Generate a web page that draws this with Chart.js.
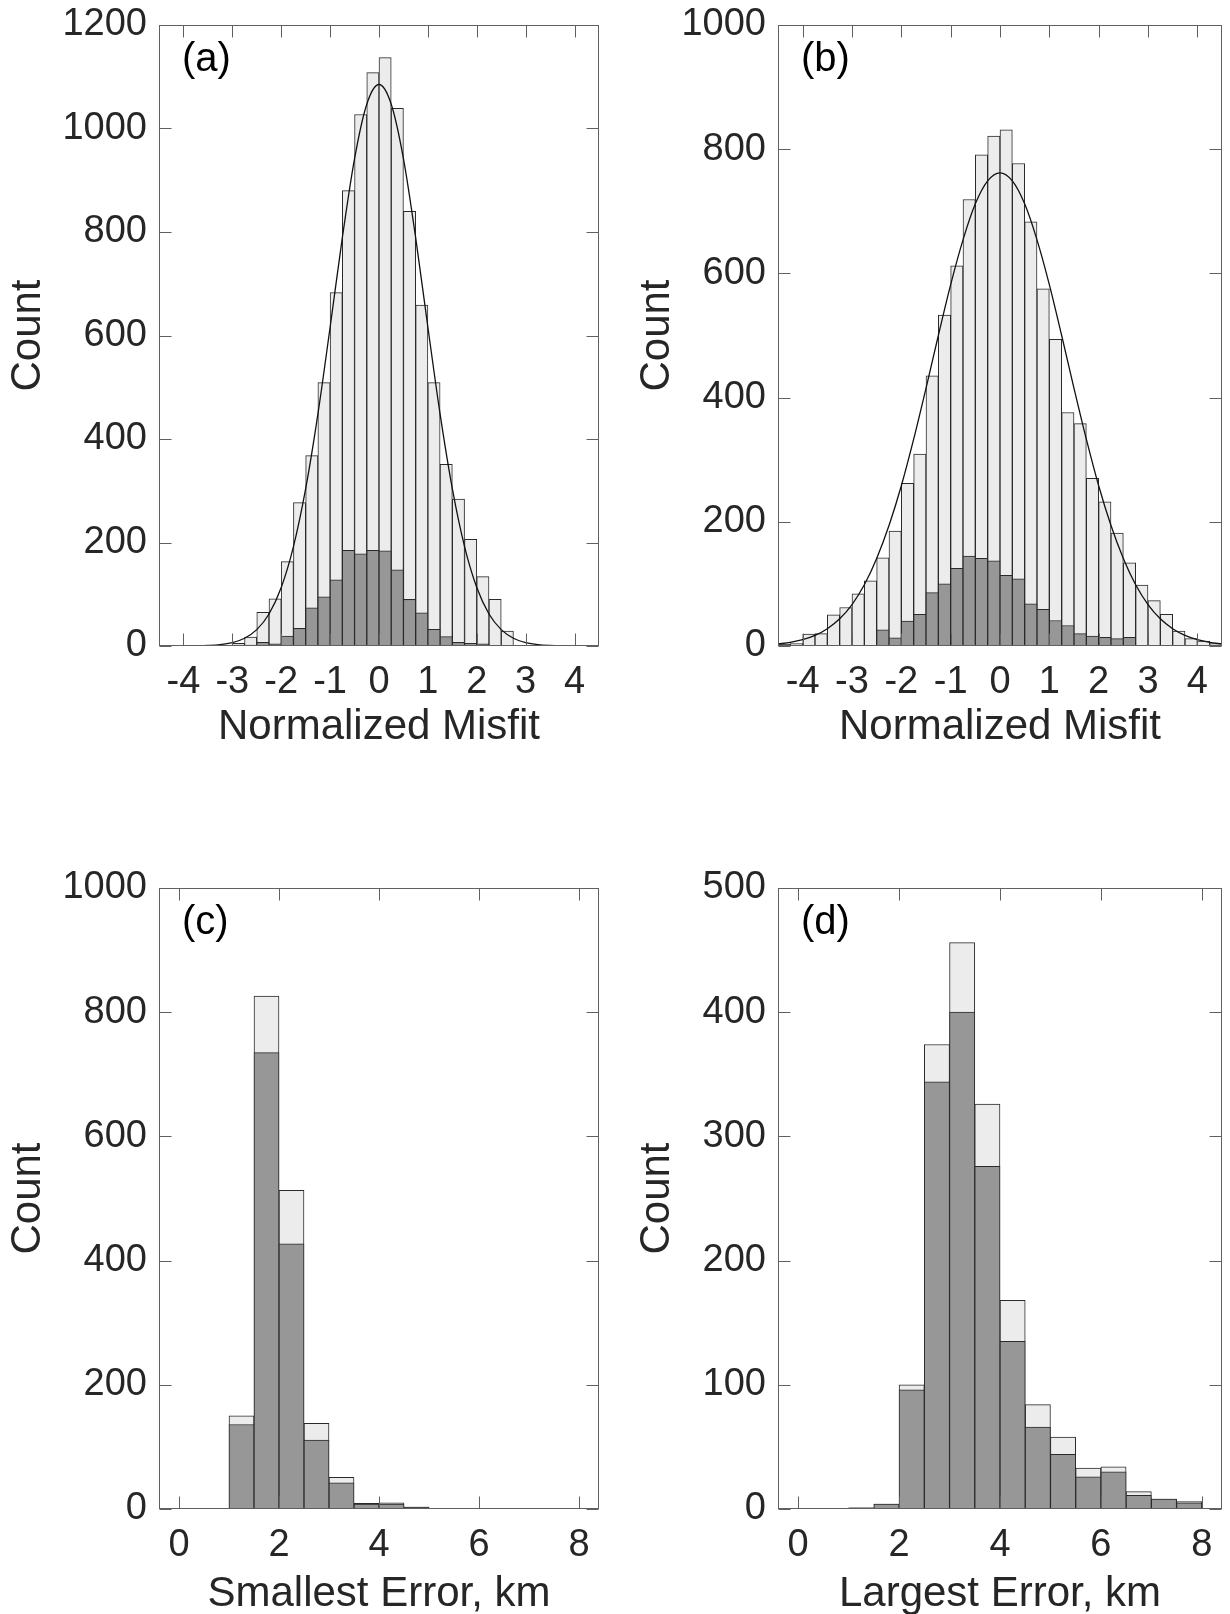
<!DOCTYPE html>
<html><head><meta charset="utf-8">
<script src="https://cdn.jsdelivr.net/npm/chart.js@4.4.0/dist/chart.umd.min.js"></script>
<style>
html,body{margin:0;padding:0;background:#fff;overflow:hidden;width:1230px;height:1614px;}
#wrap{position:relative;width:1230px;height:1614px;overflow:hidden;background:#fff;}
canvas{position:absolute;}
</style></head>
<body><div id="wrap">
<canvas id="ca" width="600" height="760" style="left:0px;top:0px"></canvas>
<canvas id="cb" width="604" height="760" style="left:619px;top:0px"></canvas>
<canvas id="cc" width="600" height="800" style="left:0px;top:862px"></canvas>
<canvas id="cd" width="604" height="800" style="left:619px;top:862px"></canvas>
</div>
<script>
// ---------- data ----------
const misfitBinCenters = [-4.375,-4.125,-3.875,-3.625,-3.375,-3.125,-2.875,-2.625,-2.375,-2.125,-1.875,-1.625,-1.375,-1.125,-0.875,-0.625,-0.375,-0.125,0.125,0.375,0.625,0.875,1.125,1.375,1.625,1.875,2.125,2.375,2.625,2.875,3.125,3.375,3.625,3.875,4.125,4.375];
const errorBinCenters = [0.25,0.75,1.25,1.75,2.25,2.75,3.25,3.75,4.25,4.75,5.25,5.75,6.25,6.75,7.25,7.75];

const misfitTicks = [-4,-3,-2,-1,0,1,2,3,4];
const errorTicks = [0,2,4,6,8];
const countTicksA = [0,200,400,600,800,1000,1200];
const countTicksB = [0,200,400,600,800,1000];
const countTicksC = [0,200,400,600,800,1000];
const countTicksD = [0,100,200,300,400,500];

// (a) all / subset counts
const aAll = [0,0,0,0,0,0,5,17,65,91,163,277,368,509,683,880,1027,1108,1137,1039,840,659,509,351,284,206,134,90,29,0,0,0,0,0,0,0];
const aSub = [0,0,0,0,0,0,0,2,7,4,19,34,74,95,128,185,178,185,184,147,90,64,32,18,7,5,4,1,0,0,0,0,0,0,0,0];
// (b)
const bAll = [3,4,19,20,50,62,84,105,142,185,262,309,435,533,612,719,791,821,831,777,683,575,494,376,358,270,232,182,134,98,73,51,24,12,8,4];
const bSub = [0,0,0,0,0,0,0,0,26,13,40,51,86,100,125,145,141,137,114,108,68,59,41,33,20,16,14,12,14,0,0,0,0,0,0,0];
// (c)
const cAll = [0,0,150,826,513,138,51,9,10,3,1,1,1,1,0,1];
const cSub = [0,0,136,735,427,111,42,8,8,3,0,1,0,1,1,1];
// (d)
const dAll = [0,0,1,4,100,374,456,326,168,84,58,33,34,14,8,6];
const dSub = [0,0,1,4,96,344,400,276,135,66,44,26,30,11,8,5];

// fitted curves
const curveX = [-4.5,-4.25,-4,-3.75,-3.5,-3.25,-3,-2.75,-2.5,-2.25,-2,-1.75,-1.5,-1.25,-1,-0.75,-0.5,-0.25,0,0.25,0.5,0.75,1,1.25,1.5,1.75,2,2.25,2.5,2.75,3,3.25,3.5,3.75,4,4.25,4.5];
const curveA = [0,0,0.1,0.4,1.1,2.7,6.7,15,31.6,61.8,113,192,304,448,616,789,942,1047,1085,1047,942,789,616,448,304,192,113,61.8,31.6,15,6.7,2.7,1.1,0.4,0.1,0,0];
const curveB = [3.2,5.8,10.1,17,27.8,43.8,66.8,98.6,141,194,258,333,415,500,582,654,712,749,762,749,712,654,582,500,415,333,258,194,141,98.6,66.8,43.8,27.8,17,10.1,5.8,3.2];

// ---------- styles ----------
const FONT = '"Liberation Sans", Arial, Helvetica, sans-serif';
const TEXT = '#262626';
const AXIS = '#606060';
const LIGHT = '#ececec';
const DARK = '#979797';
const EDGE = '#2b2b2b';
Chart.defaults.font.family = FONT;

const boxPlugin = {
  id: 'boxPlugin',
  afterDraw(chart, args, opts) {
    const {ctx, chartArea: a} = chart;
    const xs = chart.scales.x, ys = chart.scales.y;
    ctx.save();
    ctx.strokeStyle = AXIS;
    ctx.lineWidth = 1;
    const L = Math.round(a.left) + 0.5, R = Math.round(a.right) - 0.5;
    const T = Math.round(a.top) + 0.5, B = Math.round(a.bottom) - 0.5;
    ctx.strokeRect(L, T, R - L, B - T);
    ctx.beginPath();
    const TL = 12;
    xs.ticks.forEach(t => {
      const px = Math.round(xs.getPixelForValue(t.value)) + 0.5;
      ctx.moveTo(px, B); ctx.lineTo(px, B - TL);
      ctx.moveTo(px, T); ctx.lineTo(px, T + TL);
    });
    ys.ticks.forEach(t => {
      const py = Math.round(ys.getPixelForValue(t.value)) + 0.5;
      ctx.moveTo(L, py); ctx.lineTo(L + TL, py);
      ctx.moveTo(R, py); ctx.lineTo(R - TL, py);
    });
    ctx.stroke();
    ctx.fillStyle = '#000';
    ctx.font = '40px ' + FONT;
    ctx.textBaseline = 'alphabetic';
    ctx.textAlign = 'left';
    ctx.fillText(opts.label, a.left + 23, a.top + 46);
    ctx.restore();
  }
};

function makeChart(id, c) {
  const datasets = [];
  if (c.curve) {
    datasets.push({
      type: 'line',
      data: curveX.map((x, i) => ({x: x, y: c.curve[i]})),
      borderColor: '#111',
      borderWidth: 1.3,
      pointRadius: 0,
      cubicInterpolationMode: 'monotone',
      fill: false,
      order: 0
    });
  }
  datasets.push({
    type: 'bar',
    data: c.centers.map((x, i) => ({x: x, y: c.sub[i]})),
    backgroundColor: DARK,
    borderColor: EDGE,
    borderWidth: 1,
    grouped: false,
    barPercentage: 1,
    categoryPercentage: 1,
    order: 1
  });
  datasets.push({
    type: 'bar',
    data: c.centers.map((x, i) => ({x: x, y: c.all[i]})),
    backgroundColor: LIGHT,
    borderColor: EDGE,
    borderWidth: 1,
    grouped: false,
    barPercentage: 1,
    categoryPercentage: 1,
    order: 2
  });
  return new Chart(document.getElementById(id), {
    type: 'bar',
    data: {datasets},
    plugins: [boxPlugin],
    options: {
      responsive: false,
      animation: false,
      devicePixelRatio: 1,
      layout: {autoPadding: false, padding: {left: 0, top: c.topPad, right: 1, bottom: 0}},
      plugins: {legend: {display: false}, tooltip: {enabled: false}, boxPlugin: {label: c.label}},
      scales: {
        x: {
          type: 'linear',
          min: c.xMin, max: c.xMax,
          offset: false,
          grid: {display: false, offset: false, drawTicks: false},
          border: {display: false},
          afterBuildTicks: s => { s.ticks = c.xTicks.map(v => ({value: v})); },
          afterFit: s => { s.height = c.xAxisHeight; s.paddingLeft = 0; s.paddingRight = 0; },
          ticks: {
            autoSkip: false, maxRotation: 0, padding: 14, color: TEXT,
            font: {size: 38, family: FONT},
            callback: v => String(v)
          },
          title: {
            display: true, text: c.xTitle, color: TEXT,
            font: {size: 42, family: FONT},
            padding: {top: 0, bottom: c.xTitlePad}
          }
        },
        y: {
          type: 'linear',
          min: 0, max: c.yMax,
          grid: {display: false, drawTicks: false},
          border: {display: false},
          afterBuildTicks: s => { s.ticks = c.yTicks.map(v => ({value: v})); },
          afterFit: s => { s.width = 159; s.paddingTop = 0; s.paddingBottom = 0; },
          ticks: {
            padding: 12, color: TEXT,
            font: {size: 38, family: FONT},
            callback: v => String(v)
          },
          title: {
            display: true, text: 'Count', color: TEXT,
            font: {size: 42, family: FONT},
            padding: {top: c.yTitlePad, bottom: 0}
          }
        }
      }
    }
  });
}

makeChart('ca', {centers: misfitBinCenters, all: aAll, sub: aSub, curve: curveA,
  xMin: -4.5, xMax: 4.5, xTicks: misfitTicks, yMax: 1200, yTicks: countTicksA,
  xTitle: 'Normalized Misfit', label: '(a)', topPad: 25, xAxisHeight: 114, xTitlePad: 7, yTitlePad: 3});
makeChart('cb', {centers: misfitBinCenters, all: bAll, sub: bSub, curve: curveB,
  xMin: -4.5, xMax: 4.5, xTicks: misfitTicks, yMax: 1000, yTicks: countTicksB,
  xTitle: 'Normalized Misfit', label: '(b)', topPad: 25, xAxisHeight: 114, xTitlePad: 7, yTitlePad: 13});
makeChart('cc', {centers: errorBinCenters, all: cAll, sub: cSub, curve: null,
  xMin: -0.4, xMax: 8.4, xTicks: errorTicks, yMax: 1000, yTicks: countTicksC,
  xTitle: 'Smallest Error, km', label: '(c)', topPad: 26, xAxisHeight: 153, xTitlePad: 42, yTitlePad: 3});
makeChart('cd', {centers: errorBinCenters, all: dAll, sub: dSub, curve: null,
  xMin: -0.4, xMax: 8.4, xTicks: errorTicks, yMax: 500, yTicks: countTicksD,
  xTitle: 'Largest Error, km', label: '(d)', topPad: 26, xAxisHeight: 153, xTitlePad: 42, yTitlePad: 13});
</script>
</body></html>
